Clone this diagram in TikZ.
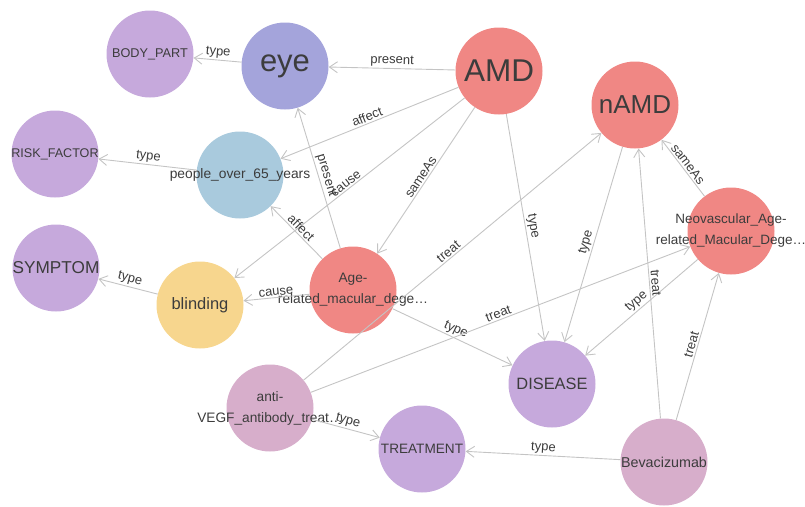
\documentclass[tikz,border=0pt]{standalone}
\usepackage{fontspec}
\setmainfont{Liberation Sans}
\usetikzlibrary{arrows.meta}

\definecolor{typecol}{HTML}{C6A9DC}
\definecolor{eyecol}{HTML}{A4A4DB}
\definecolor{redcol}{HTML}{F08784}
\definecolor{bluecol}{HTML}{A9CADD}
\definecolor{yellowcol}{HTML}{F7D68E}
\definecolor{pinkcol}{HTML}{D7AECB}
\definecolor{labelgray}{HTML}{3C3C3C}
\definecolor{edgegray}{HTML}{C4C4C4}

\tikzset{
  ent/.style={circle, minimum size=87pt, inner sep=0pt},
  typ/.style={ent, fill=typecol},
  fs/.style={font=\fontsize{#1pt}{21pt}\selectfont},
  entname/.style={text=labelgray, align=center, inner sep=0pt},
  rel/.style={draw=edgegray, line width=0.9pt, -{Straight Barb[length=8pt,width=11pt]}},
  lbl/.style={font=\fontsize{13pt}{15pt}\selectfont, text=labelgray, sloped, above, midway, inner sep=1.5pt}
}

\begin{document}
\begin{tikzpicture}[x=1pt,y=-1pt]
\useasboundingbox (0,0) rectangle (805,506);

% entities (text as centre labels, so it may run past the circle)
\node[typ, label={[entname, fs=12.7]center:BODY\_PART}] (bodypart) at (150,54) {};
\node[ent, fill=eyecol, label={[entname, fs=31]center:eye}] (eye) at (285,66) {};
\node[ent, fill=redcol, label={[entname, fs=31.5]center:AMD}] (amd) at (499,71) {};
\node[ent, fill=redcol, label={[entname, fs=26]center:nAMD}] (namd) at (635,105) {};
\node[typ, label={[entname, fs=12.6]center:RISK\_FACTOR}] (riskfactor) at (55,154) {};
\node[ent, fill=bluecol, label={[entname, fs=13.8]center:people\_over\_65\_years}] (people) at (240,175) {};
\node[ent, fill=redcol, label={[entname, fs=13.5]center:Neovascular\_Age-\\related\_Macular\_Dege…}] (neo) at (731,231) {};
\node[typ, label={[entname, fs=17.2]center:SYMPTOM}] (symptom) at (56,268) {};
\node[ent, fill=yellowcol, label={[entname, fs=16.5]center:blinding}] (blinding) at (200,305) {};
\node[ent, fill=redcol, label={[entname, fs=13.7]center:Age-\\related\_macular\_dege…}] (armd) at (353,290) {};
\node[ent, fill=pinkcol, label={[entname, fs=13.7]center:anti-\\VEGF\_antibody\_treat…}] (antivegf) at (270,408) {};
\node[typ, label={[entname, fs=13.6]center:TREATMENT}] (treatment) at (422,449) {};
\node[typ, label={[entname, fs=16.4]center:DISEASE}] (disease) at (552,384) {};
\node[ent, fill=pinkcol, label={[entname, fs=14.3]center:Bevacizumab}] (beva) at (664,462) {};

% relations
\draw[rel] (eye) -- node[lbl]{type} (bodypart);
\draw[rel] (amd) -- node[lbl]{present} (eye);
\draw[rel] (amd) -- node[lbl]{affect} (people);
\draw[rel] (amd) -- node[lbl]{cause} (blinding);
\draw[rel] (amd) -- node[lbl]{sameAs} (armd);
\draw[rel] (amd) -- node[lbl]{type} (disease);
\draw[rel] (people) -- node[lbl]{type} (riskfactor);
\draw[rel] (blinding) -- node[lbl]{type} (symptom);
\draw[rel] (armd) -- node[lbl]{present} (eye);
\draw[rel] (armd) -- node[lbl]{affect} (people);
\draw[rel] (armd) -- node[lbl]{cause} (blinding);
\draw[rel] (armd) -- node[lbl]{type} (disease);
\draw[rel] (namd) -- node[lbl]{type} (disease);
\draw[rel] (neo) -- node[lbl]{sameAs} (namd);
\draw[rel] (neo) -- node[lbl]{type} (disease);
\draw[rel] (antivegf) -- node[lbl]{treat} (namd);
\draw[rel] (antivegf) -- node[lbl]{treat} (neo);
\draw[rel] (antivegf) -- node[lbl]{type} (treatment);
\draw[rel] (beva) -- node[lbl]{treat} (namd);
\draw[rel] (beva) -- node[lbl]{treat} (neo);
\draw[rel] (beva) -- node[lbl]{type} (treatment);
\end{tikzpicture}
\end{document}
